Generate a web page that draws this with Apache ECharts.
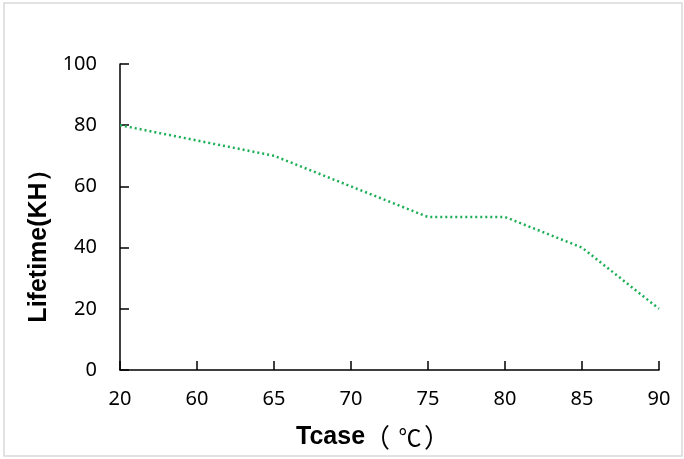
<!DOCTYPE html>
<html>
<head>
<meta charset="utf-8">
<script src="https://cdn.jsdelivr.net/npm/echarts@6/dist/echarts.min.js"></script>
<style>
html,body{margin:0;padding:0;background:#fff;}
#chart{width:684px;height:459px;}
</style>
</head>
<body>
<div id="chart"></div>
<script>
var categories = ['20', '60', '65', '70', '75', '80', '85', '90'];
var lifetime = [80, 75, 70, 60, 50, 50, 40, 20];
var yTicks = [0, 20, 40, 60, 80, 100];
var xTitle = ['Tcase', '（', '℃', '）'];
var yTitle = 'Lifetime(KH）';

var chart = echarts.init(document.getElementById('chart'));
chart.setOption({
  animation: false,
  backgroundColor: '#fff',
  graphic: [{
    type: 'rect',
    shape: {x: 4, y: 3, width: 678, height: 453},
    style: {fill: 'none', stroke: '#d9d9d9', lineWidth: 1.5},
    silent: true
  }, {
    type: 'text',
    x: 296, y: 437,
    silent: true,
    style: {
      text: '{b|' + xTitle[0] + '}{l|' + xTitle[1] + '}{c|' + xTitle[2] + '}{r|' + xTitle[3] + '}',
      align: 'left', verticalAlign: 'middle',
      rich: {
        b: {fontFamily: 'Liberation Sans', fontWeight: 'bold', fontSize: 25, fill: '#000'},
        l: {fontFamily: 'Noto Sans CJK SC', fontWeight: 'normal', fontSize: 26, fill: '#000', width: 24, align: 'right'},
        c: {fontFamily: 'Noto Sans CJK SC', fontWeight: 'normal', fontSize: 23, fill: '#000', width: 42, align: 'center'},
        r: {fontFamily: 'Noto Sans CJK SC', fontWeight: 'normal', fontSize: 26, fill: '#000', width: 12, align: 'left'}
      }
    }
  }, {
    type: 'text',
    x: 39, y: 240,
    rotation: Math.PI / 2,
    silent: true,
    style: {
      text: yTitle,
      align: 'center', verticalAlign: 'middle',
      fontFamily: 'Liberation Sans', fontWeight: 'bold', fontSize: 25, fill: '#000'
    }
  }],
  grid: {left: 120, right: 25, top: 64, bottom: 89, containLabel: false},
  xAxis: {
    type: 'category',
    data: categories,
    boundaryGap: false,
    axisLine: {lineStyle: {color: '#000', width: 1.5}},
    axisTick: {inside: true, length: 9, alignWithLabel: true, lineStyle: {color: '#000', width: 1.5}},
    axisLabel: {color: '#000', fontFamily: 'Noto Sans', fontSize: 20, margin: 19, interval: 0},
    splitLine: {show: false}
  },
  yAxis: {
    type: 'value',
    min: yTicks[0],
    max: yTicks[yTicks.length - 1],
    interval: 20,
    axisLine: {show: true, lineStyle: {color: '#000', width: 1.5}},
    axisTick: {show: true, inside: true, length: 9, lineStyle: {color: '#000', width: 1.5}},
    axisLabel: {color: '#000', fontFamily: 'Noto Sans', fontSize: 20, margin: 23},
    splitLine: {show: false}
  },
  series: [{
    type: 'line',
    data: lifetime,
    symbol: 'none',
    lineStyle: {color: '#1aae55', width: 2.5, type: [2, 3]}
  }]
});
</script>
</body>
</html>
